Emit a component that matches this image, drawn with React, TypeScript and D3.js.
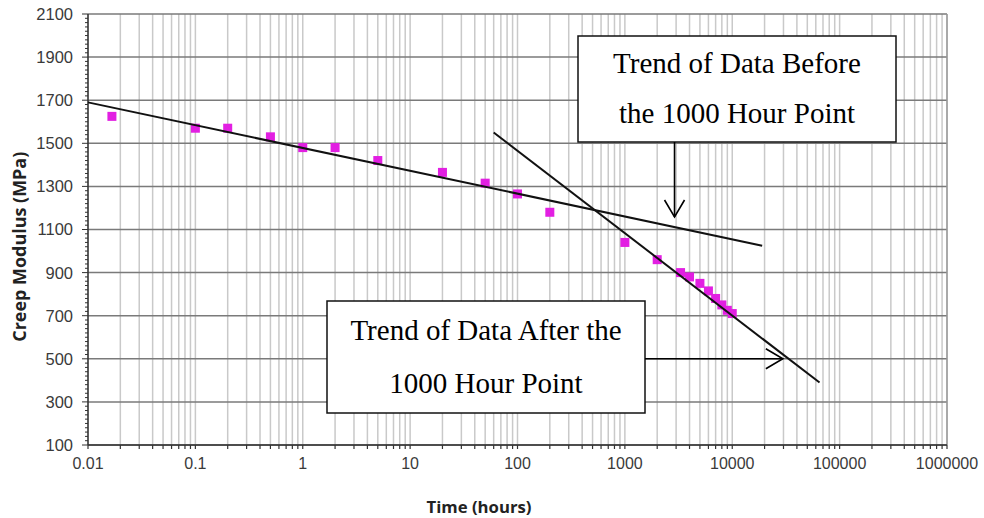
import React from "react";
import * as d3 from "d3";

const W = 984;
const H = 518;

// creep test readings
const timeHours = [0.0167, 0.1, 0.2, 0.5, 1, 2, 5, 20, 50, 100, 200, 1000, 2000, 3300, 4000, 5000, 6000, 7000, 8000, 9000, 10000];
const creepModulus = [1625, 1570, 1570, 1530, 1480, 1480, 1420, 1365, 1315, 1265, 1180, 1040, 960, 900, 880, 850, 815, 780, 750, 725, 710];

// hand-drawn trend lines (endpoints)
const trendBeforeT = [0.01, 19000];
const trendBeforeV = [1690, 1025];
const trendAfterT = [60, 65000];
const trendAfterV = [1550, 390];

const yTickValues = [100, 300, 500, 700, 900, 1100, 1300, 1500, 1700, 1900, 2100];
const xTickLabels = ["0.01", "0.1", "1", "10", "100", "1000", "10000", "100000", "1000000"];

const x = d3.scaleLog().domain([0.01, 1e6]).range([88, 947]);
const y = d3.scaleLinear().domain([100, 2100]).range([445, 14]);

const sans = "'Liberation Sans', Arial, sans-serif";
const serif = "'Liberation Serif', 'Times New Roman', serif";
const bold = "'Open Sans', 'Noto Sans', sans-serif";

function Chevron({ x0, y0, dir }: { x0: number; y0: number; dir: "down" | "right" }) {
  const d = dir === "down"
    ? `M${x0 - 10},${y0 - 17}L${x0},${y0}L${x0 + 10},${y0 - 17}`
    : `M${x0 - 17},${y0 - 10}L${x0},${y0}L${x0 - 17},${y0 + 10}`;
  return <path d={d} fill="none" stroke="#000" strokeWidth={1.6} />;
}

export default function App() {
  const [x0, x1] = x.range();
  const [y0, y1] = y.range();
  const vTicks = x.ticks();
  const minorY = d3.range(100, 2101, 20);
  const line = d3.line<[number, number]>().x(d => x(d[0])).y(d => y(d[1]));
  const before = line(trendBeforeT.map((t, i) => [t, trendBeforeV[i]] as [number, number])) || "";
  const after = line(trendAfterT.map((t, i) => [t, trendAfterV[i]] as [number, number])) || "";

  // annotation anchors
  const arrowBeforeX = x(2900);
  const arrowBeforeY = y(1158);
  const arrowAfterX = x(29600);
  const arrowAfterY = y(500);

  return (
    <div style={{ position: "absolute", left: 0, top: 0 }}>
      <svg width={W} height={H} style={{ display: "block", background: "#fff" }}>
        {/* vertical grid */}
        {vTicks.map((t, i) => (
          <line key={"v" + i} x1={x(t)} x2={x(t)} y1={y1} y2={y0} stroke="#c9c9c9" strokeWidth={1.5} />
        ))}
        {/* horizontal grid */}
        {yTickValues.map(v => (
          <line key={"h" + v} x1={x0} x2={x1} y1={y(v)} y2={y(v)} stroke="#7a7a7a" strokeWidth={1.5} />
        ))}
        <line x1={x1} x2={x1} y1={y1} y2={y0} stroke="#9a9a9a" strokeWidth={1.5} />

        {/* axes */}
        <line x1={x0} x2={x0} y1={y1} y2={y0} stroke="#333" strokeWidth={1.5} />
        <line x1={x0} x2={x1} y1={y0} y2={y0} stroke="#333" strokeWidth={1.5} />
        {minorY.map(v => (
          <line key={"my" + v} x1={x0 - (v % 200 === 100 ? 6 : 3)} x2={x0} y1={y(v)} y2={y(v)} stroke="#333" strokeWidth={1} />
        ))}
        {vTicks.map((t, i) => (
          <line key={"mx" + i} x1={x(t)} x2={x(t)} y1={y0} y2={y0 + 4} stroke="#333" strokeWidth={1.2} />
        ))}
        {yTickValues.map(v => (
          <text key={"yl" + v} x={73} y={y(v)} dy="0.36em" textAnchor="end" fontFamily={sans} fontSize={16.5} fill="#3a3a3a">
            {v}
          </text>
        ))}
        {xTickLabels.map(s => (
          <text key={"xl" + s} x={x(+s)} y={469} textAnchor="middle" fontFamily={sans} fontSize={16} fill="#3a3a3a">
            {s}
          </text>
        ))}
        <text x={479} y={513} textAnchor="middle" fontFamily={bold} fontWeight="bold" fontSize={16}
          textLength={105} lengthAdjust="spacingAndGlyphs" fill="#222">
          Time (hours)
        </text>
        <text transform={`translate(26,${y(1020)}) rotate(-90)`} textAnchor="middle" fontFamily={bold} fontWeight="bold"
          fontSize={17} textLength={190} lengthAdjust="spacingAndGlyphs" fill="#222">
          Creep Modulus (MPa)
        </text>

        {/* data */}
        {timeHours.map((t, i) => (
          <rect key={"p" + i} x={x(t) - 4.5} y={y(creepModulus[i]) - 4.5} width={9} height={9} fill="#e21fe2" />
        ))}

        {/* trend lines */}
        <path d={before} fill="none" stroke="#111" strokeWidth={2} />
        <path d={after} fill="none" stroke="#111" strokeWidth={2} />

        {/* annotation: before */}
        <rect x={578} y={36} width={318} height={106} fill="#fff" stroke="#111" strokeWidth={1.5} />
        <text x={737} y={73} textAnchor="middle" fontFamily={serif} fontSize={29} fill="#000">Trend of Data Before</text>
        <text x={737} y={123} textAnchor="middle" fontFamily={serif} fontSize={29} fill="#000">the 1000 Hour Point</text>
        <line x1={arrowBeforeX} x2={arrowBeforeX} y1={142} y2={arrowBeforeY} stroke="#000" strokeWidth={1.6} />
        <Chevron x0={arrowBeforeX} y0={arrowBeforeY} dir="down" />

        {/* annotation: after */}
        <rect x={327} y={301} width={318} height={112} fill="#fff" stroke="#111" strokeWidth={1.5} />
        <text x={486} y={340} textAnchor="middle" fontFamily={serif} fontSize={29} fill="#000">Trend of Data After the</text>
        <text x={486} y={393} textAnchor="middle" fontFamily={serif} fontSize={29} fill="#000">1000 Hour Point</text>
        <line x1={645} x2={arrowAfterX} y1={arrowAfterY} y2={arrowAfterY} stroke="#000" strokeWidth={1.6} />
        <Chevron x0={arrowAfterX} y0={arrowAfterY} dir="right" />
      </svg>
    </div>
  );
}
